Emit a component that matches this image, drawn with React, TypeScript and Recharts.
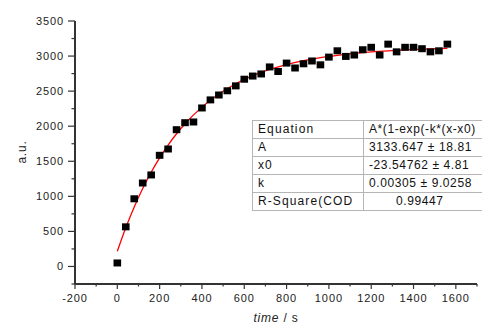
import React from "react";
import {
  ComposedChart,
  Scatter,
  Line,
  XAxis,
  YAxis,
} from "recharts";

// measured points (time in s, intensity in a.u.)
const times = [
  0, 40, 80, 120, 160, 200, 240, 280, 320, 360, 400, 440, 480, 520, 560, 600,
  640, 680, 720, 760, 800, 840, 880, 920, 960, 1000, 1040, 1080, 1120, 1160,
  1200, 1240, 1280, 1320, 1360, 1400, 1440, 1480, 1520, 1560,
];
const values = [
  50, 565, 965, 1190, 1305, 1585, 1675, 1950, 2050, 2060, 2260, 2375, 2445,
  2505, 2575, 2670, 2715, 2745, 2845, 2780, 2900, 2830, 2890, 2930, 2875, 2985,
  3075, 2995, 3015, 3090, 3125, 3015, 3170, 3060, 3125, 3125, 3105, 3060, 3075,
  3170,
];

// fitted curve
const fitTimes = [
  0, 40, 80, 120, 160, 200, 240, 280, 320, 400, 480, 560, 640, 720, 800, 880,
  960, 1040, 1120, 1200, 1280, 1360, 1440, 1560,
];
const fitValues = [
  217, 552, 849, 1111, 1343, 1549, 1731, 1892, 2035, 2272, 2459, 2605, 2720,
  2809, 2879, 2934, 2978, 3011, 3038, 3059, 3075, 3088, 3098, 3109,
];

const xTicks = [
  -200, -100, 0, 100, 200, 300, 400, 500, 600, 700, 800, 900, 1000, 1100, 1200,
  1300, 1400, 1500, 1600, 1700,
];
const yTicks = [
  -250, 0, 250, 500, 750, 1000, 1250, 1500, 1750, 2000, 2250, 2500, 2750, 3000,
  3250, 3500,
];

// fit report, as much of it as shows inside the picture
const tableNames = ["Equation", "A", "x0", "k", "R-Square(COD"];
const tableValues = [
  "A*(1-exp(-k*(x-x0)",
  "3133.647 ± 18.81",
  "-23.54762 ± 4.81",
  "0.00305 ± 9.0258",
  "0.99447",
];

const points = times.map((t, i) => ({ t, v: values[i] }));
const fit = fitTimes.map((t, i) => ({ t, v: fitValues[i] }));

const FONT = '"Liberation Sans", Arial, sans-serif';
const AXIS = "#333";

const XTick = (props: any) => {
  const { x, y, payload } = props;
  const v = payload.value;
  const major = v % 200 === 0;
  return (
    <g>
      <line x1={x} x2={x} y1={y} y2={y + (major ? 5 : 2.5)} stroke={AXIS} strokeWidth={1.2} />
      {major && v <= 1600 && (
        <text x={x} y={y + 18} textAnchor="middle" fontSize={11} letterSpacing={0.9} fill="#222" fontFamily={FONT}>
          {v}
        </text>
      )}
    </g>
  );
};

const YTick = (props: any) => {
  const { x, y, payload } = props;
  const v = payload.value;
  const major = v % 500 === 0;
  return (
    <g>
      <line x1={x} x2={x - (major ? 7 : 3.5)} y1={y} y2={y} stroke={AXIS} strokeWidth={1.2} />
      {major && v >= 0 && (
        <text x={x - 11} y={y + 4} textAnchor="end" fontSize={11} letterSpacing={0.9} fill="#222" fontFamily={FONT}>
          {v}
        </text>
      )}
    </g>
  );
};

const Square = (props: any) => {
  const { cx, cy } = props;
  return <rect x={cx - 3.8} y={cy - 3.5} width={7.6} height={7} fill="#000" />;
};

const cell: React.CSSProperties = {
  border: "1px solid #b5b5b5",
  height: 17,
  padding: "0 0 0 5px",
  whiteSpace: "nowrap",
  overflow: "hidden",
  lineHeight: "17px",
};

export default function App() {
  return (
    <div
      style={{
        position: "fixed",
        left: 0,
        top: 0,
        width: 482,
        height: 325,
        overflow: "hidden",
        background: "#fff",
      }}
    >
      <ComposedChart width={482} height={325} margin={{ top: 21, right: 5, left: 0, bottom: 0 }}>
        <XAxis
          type="number"
          dataKey="t"
          domain={[-200, 1700]}
          ticks={xTicks}
          interval={0}
          height={41}
          tickSize={0}
          tickMargin={0}
          tick={<XTick />}
          tickLine={false}
          axisLine={{ stroke: AXIS, strokeWidth: 2 }}
          allowDataOverflow
        />
        <YAxis
          type="number"
          domain={[-250, 3500]}
          ticks={yTicks}
          interval={0}
          width={75}
          tickSize={0}
          tickMargin={0}
          tick={<YTick />}
          tickLine={false}
          axisLine={{ stroke: AXIS, strokeWidth: 2 }}
          allowDataOverflow
        />
        <Scatter data={points} dataKey="v" shape={<Square />} isAnimationActive={false} />
        <Line
          data={fit}
          dataKey="v"
          type="monotone"
          stroke="#ff0000"
          strokeWidth={1.3}
          dot={false}
          activeDot={false}
          isAnimationActive={false}
        />
      </ComposedChart>

      <div
        style={{
          position: "absolute",
          left: 22,
          top: 152,
          transform: "translate(-50%, -50%) rotate(-90deg)",
          fontFamily: FONT,
          fontSize: 12,
          letterSpacing: 0.8,
          color: "#222",
          whiteSpace: "nowrap",
        }}
      >
        a.u.
      </div>
      <div
        style={{
          position: "absolute",
          left: 276,
          top: 311,
          transform: "translateX(-50%)",
          fontFamily: FONT,
          fontSize: 12,
          letterSpacing: 0.8,
          color: "#222",
          whiteSpace: "nowrap",
        }}
      >
        <i>time</i> / s
      </div>

      <table
        style={{
          position: "absolute",
          left: 252,
          top: 120,
          borderCollapse: "collapse",
          border: "1.5px solid #3a3a3a",
          borderRight: "none",
          tableLayout: "fixed",
          width: 111 + 119,
          fontFamily: FONT,
          fontSize: 12,
          color: "#111",
        }}
      >
        <colgroup>
          <col style={{ width: 111 }} />
          <col style={{ width: 119 }} />
        </colgroup>
        <tbody>
          {tableNames.map((name, i) => (
            <tr key={name}>
              <td style={{ ...cell, letterSpacing: 1.1 }}>{name}</td>
              <td
                style={{
                  ...cell,
                  borderRight: "none",
                  letterSpacing: 0.6,
                  padding: i === tableNames.length - 1 ? "0 0 0 32px" : "0 0 0 5px",
                }}
              >
                {tableValues[i]}
              </td>
            </tr>
          ))}
        </tbody>
      </table>
    </div>
  );
}
